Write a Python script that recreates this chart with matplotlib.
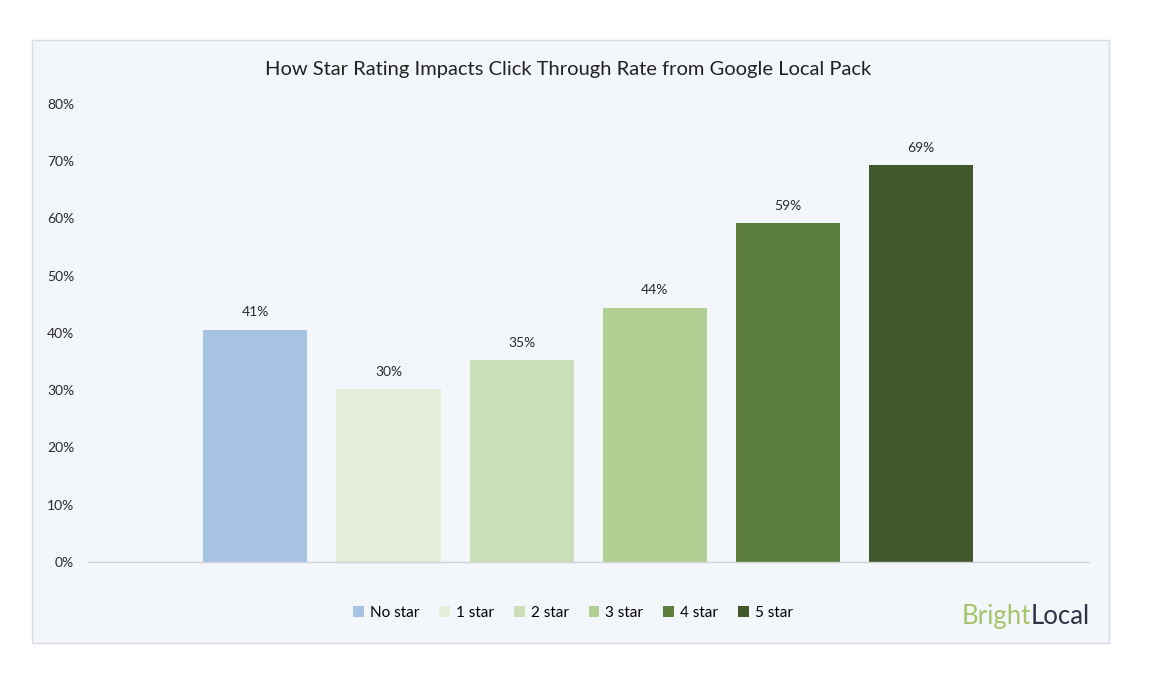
import matplotlib
matplotlib.use("Agg")
import matplotlib.pyplot as plt
from matplotlib.patches import Rectangle, Patch

plt.rcParams["font.family"] = ["Lato", "DejaVu Sans"]

categories = ["No star", "1 star", "2 star", "3 star", "4 star", "5 star"]
ctr = [40.6, 30.2, 35.2, 44.4, 59.2, 69.3]
colors = ["#a6c3e3", "#e5eedb", "#cadfb7", "#b1ce93", "#5d7f3d", "#3f572b"]
yticks = [0, 10, 20, 30, 40, 50, 60, 70, 80]
title = "How Star Rating Impacts Click Through Rate from Google Local Pack"

W, H = 1154, 686
fig = plt.figure(figsize=(W / 100, H / 100), dpi=100)
fig.patch.set_facecolor("white")

# light panel behind the chart
fig.add_artist(Rectangle((32 / W, 1 - 643 / H), (1109 - 32) / W, (643 - 40) / H,
                         transform=fig.transFigure, facecolor="#f3f6fa",
                         edgecolor="#d8dbdf", lw=1, zorder=0))

ax = fig.add_axes([88 / W, 1 - 562 / H, (1089 - 88) / W, (562 - 104) / H])
ax.set_facecolor("none")
x = list(range(len(categories)))
ax.bar(x, ctr, width=0.783, color=colors, zorder=2)
for xi, v in zip(x, ctr):
    ax.text(xi, v + 2.0, f"{v:.0f}%", ha="center", va="bottom",
            fontsize=10, color="#2a2a2a")

ax.set_xlim(-1.256, 6.259)
ax.set_ylim(0, 80)
ax.set_yticks(yticks)
ax.set_yticklabels([f"{t}%" for t in yticks], fontsize=10, color="#2a2a2a")
ax.tick_params(axis="y", length=0, pad=10)
ax.set_xticks([])
for side in ["top", "right", "left"]:
    ax.spines[side].set_visible(False)
ax.spines["bottom"].set_color("#d0d3d6")
ax.spines["bottom"].set_linewidth(1)

fig.text(568 / W, 1 - 70 / H, title, ha="center", va="center",
         fontsize=14.5, color="#222222")

handles = [Patch(facecolor=c, label=l) for c, l in zip(colors, categories)]
fig.legend(handles=handles, loc="center", bbox_to_anchor=(573 / W, 1 - 613 / H),
           ncol=6, frameon=False, fontsize=11, handlelength=0.7, handleheight=0.7,
           handletextpad=0.4, columnspacing=1.3)

# logo text: "Bright" + "Local" set side by side
logo_font = dict(fontsize=18.5, family=["Lato", "DejaVu Sans"])
local = fig.text(1090 / W, 1 - 624 / H, "Local", ha="right", va="baseline",
                 color="#2c3448", **logo_font)
ax.annotate("Bright", xy=(0, 0), xycoords=local, ha="right", va="bottom",
            color="#a6c46c", annotation_clip=False, **logo_font)

fig.savefig("out.png", dpi=100)
